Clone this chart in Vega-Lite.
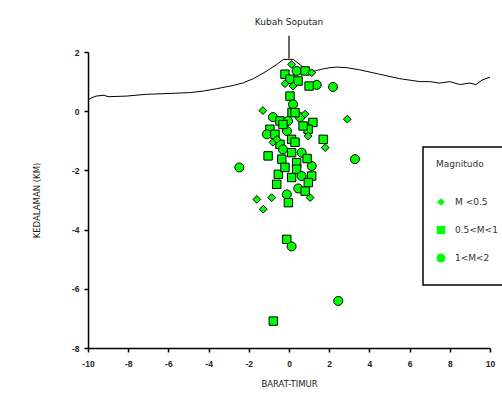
{
  "$schema": "https://vega.github.io/schema/vega-lite/v6.json",
  "autosize": {"type": "none"},
  "padding": {"left": 88, "top": 52, "right": 12, "bottom": 46},
  "width": 402,
  "height": 296,
  "background": "white",
  "config": {
    "view": {"stroke": null},
    "font": "Liberation Sans",
    "axis": {
      "domainColor": "black", "domainWidth": 1.5, "tickColor": "black", "tickWidth": 1.5,
      "grid": false, "labelFont": "Liberation Sans", "labelFontSize": 8.5, "labelFontWeight": "bold",
      "labelColor": "#222", "titleFont": "DejaVu Sans", "titleFontSize": 8.5, "titleFontWeight": "normal", "titleColor": "#222",
      "labelOverlap": false
    },
    "legend": {
      "orient": "none", "legendX": 335, "legendY": 95,
      "strokeColor": "black", "strokeWidth": 1.5, "padding": 13, "titleFont": "DejaVu Sans", "titleFontSize": 9, "titleFontWeight": "normal", "titleColor": "#333",
      "titlePadding": 19, "labelFont": "DejaVu Sans", "labelFontSize": 9, "labelColor": "#333", "rowPadding": 0, "clipHeight": 28, "labelOffset": 9,
      "symbolFillColor": "#00FF00", "symbolStrokeColor": "black", "symbolStrokeWidth": 1, "symbolOpacity": 1
    }
  },
  "title": {"text": "Kubah Soputan", "fontSize": 9, "fontWeight": "normal", "font": "DejaVu Sans", "color": "#222", "offset": 8, "anchor": "middle"},
  "datasets": {
    "topo": [
      {"x": -10, "y": 0.38}, {"x": -9.8, "y": 0.46}, {"x": -9.6, "y": 0.51}, {"x": -9.2, "y": 0.54},
      {"x": -9.0, "y": 0.49}, {"x": -8.1, "y": 0.51}, {"x": -7.1, "y": 0.57}, {"x": -5.9, "y": 0.6},
      {"x": -4.9, "y": 0.63}, {"x": -4.26, "y": 0.68}, {"x": -3.6, "y": 0.76}, {"x": -2.77, "y": 0.87},
      {"x": -2.27, "y": 0.96}, {"x": -1.77, "y": 1.1}, {"x": -1.1, "y": 1.36}, {"x": -0.61, "y": 1.58},
      {"x": -0.28, "y": 1.75}, {"x": 0.21, "y": 1.75}, {"x": 0.63, "y": 1.53}, {"x": 1.05, "y": 1.38},
      {"x": 1.3, "y": 1.36}, {"x": 1.63, "y": 1.42}, {"x": 2.04, "y": 1.47}, {"x": 2.38, "y": 1.49},
      {"x": 2.88, "y": 1.47}, {"x": 3.5, "y": 1.4}, {"x": 4.5, "y": 1.25}, {"x": 5.5, "y": 1.1},
      {"x": 6.5, "y": 1.0}, {"x": 7.0, "y": 1.0}, {"x": 7.5, "y": 0.95}, {"x": 8.0, "y": 1.0},
      {"x": 8.5, "y": 0.9}, {"x": 9.0, "y": 0.95}, {"x": 9.3, "y": 0.9}, {"x": 9.6, "y": 1.05}, {"x": 10, "y": 1.15}
    ],
    "quakes": [
      {"x": 0.13, "y": 1.58, "mag": "M <0.5"}, {"x": 0.38, "y": 1.36, "mag": "1<M<2"},
      {"x": 0.8, "y": 1.36, "mag": "0.5<M<1"}, {"x": 1.13, "y": 1.3, "mag": "M <0.5"},
      {"x": -0.2, "y": 1.25, "mag": "0.5<M<1"}, {"x": 0.05, "y": 1.08, "mag": "0.5<M<1"},
      {"x": 0.45, "y": 1.02, "mag": "0.5<M<1"}, {"x": 1.38, "y": 0.89, "mag": "1<M<2"},
      {"x": 1.0, "y": 0.85, "mag": "0.5<M<1"}, {"x": 0.2, "y": 0.85, "mag": "M <0.5"},
      {"x": -0.2, "y": 0.93, "mag": "M <0.5"}, {"x": 2.19, "y": 0.82, "mag": "1<M<2"},
      {"x": 0.05, "y": 0.51, "mag": "0.5<M<1"}, {"x": 0.2, "y": 0.23, "mag": "1<M<2"},
      {"x": -1.3, "y": 0.02, "mag": "M <0.5"}, {"x": 0.15, "y": -0.04, "mag": "0.5<M<1"},
      {"x": 2.9, "y": -0.27, "mag": "M <0.5"}, {"x": -0.8, "y": -0.2, "mag": "1<M<2"},
      {"x": 0.55, "y": -0.2, "mag": "1<M<2"}, {"x": 0.3, "y": -0.05, "mag": "0.5<M<1"},
      {"x": 0.8, "y": -0.1, "mag": "M <0.5"}, {"x": 1.19, "y": -0.38, "mag": "0.5<M<1"},
      {"x": 0.95, "y": -0.61, "mag": "0.5<M<1"}, {"x": -0.45, "y": -0.33, "mag": "0.5<M<1"},
      {"x": -0.05, "y": -0.33, "mag": "1<M<2"}, {"x": -0.95, "y": -0.61, "mag": "0.5<M<1"},
      {"x": -1.1, "y": -0.78, "mag": "1<M<2"}, {"x": -0.7, "y": -0.78, "mag": "0.5<M<1"},
      {"x": -0.1, "y": -0.67, "mag": "1<M<2"}, {"x": 0.13, "y": -0.95, "mag": "0.5<M<1"},
      {"x": -0.8, "y": -1.05, "mag": "M <0.5"}, {"x": -0.45, "y": -1.12, "mag": "0.5<M<1"},
      {"x": 0.95, "y": -0.84, "mag": "M <0.5"}, {"x": 1.7, "y": -0.95, "mag": "0.5<M<1"},
      {"x": 1.8, "y": -1.23, "mag": "M <0.5"}, {"x": -1.04, "y": -1.51, "mag": "0.5<M<1"},
      {"x": -0.3, "y": -1.29, "mag": "1<M<2"}, {"x": 0.13, "y": -1.4, "mag": "0.5<M<1"},
      {"x": 0.63, "y": -1.4, "mag": "1<M<2"}, {"x": -0.36, "y": -1.62, "mag": "0.5<M<1"},
      {"x": 3.28, "y": -1.62, "mag": "1<M<2"}, {"x": -2.47, "y": -1.9, "mag": "1<M<2"},
      {"x": 0.38, "y": -1.74, "mag": "0.5<M<1"}, {"x": 0.38, "y": -1.96, "mag": "0.5<M<1"},
      {"x": 1.13, "y": -1.85, "mag": "1<M<2"}, {"x": -0.53, "y": -2.13, "mag": "0.5<M<1"},
      {"x": 0.13, "y": -2.24, "mag": "0.5<M<1"}, {"x": 0.63, "y": -2.19, "mag": "1<M<2"},
      {"x": 1.13, "y": -2.19, "mag": "0.5<M<1"}, {"x": -0.61, "y": -2.47, "mag": "0.5<M<1"},
      {"x": 0.46, "y": -2.61, "mag": "1<M<2"}, {"x": 0.96, "y": -2.41, "mag": "0.5<M<1"},
      {"x": -0.11, "y": -2.81, "mag": "1<M<2"}, {"x": -1.6, "y": -2.98, "mag": "M <0.5"},
      {"x": -0.86, "y": -2.92, "mag": "M <0.5"}, {"x": 1.05, "y": -2.92, "mag": "M <0.5"},
      {"x": -0.03, "y": -3.09, "mag": "0.5<M<1"}, {"x": -1.28, "y": -3.31, "mag": "M <0.5"},
      {"x": -0.11, "y": -4.33, "mag": "0.5<M<1"}, {"x": 0.13, "y": -4.57, "mag": "1<M<2"},
      {"x": 2.45, "y": -6.41, "mag": "1<M<2"}, {"x": -0.78, "y": -7.09, "mag": "0.5<M<1"},
      {"x": -0.3, "y": -0.45, "mag": "0.5<M<1"}, {"x": 0.7, "y": -0.5, "mag": "0.5<M<1"},
      {"x": -0.6, "y": -0.95, "mag": "M <0.5"}, {"x": 0.3, "y": -1.05, "mag": "0.5<M<1"},
      {"x": 0.9, "y": -1.6, "mag": "0.5<M<1"}, {"x": -0.2, "y": -1.9, "mag": "0.5<M<1"},
      {"x": 0.8, "y": -2.7, "mag": "0.5<M<1"}
    ],
    "arrow": [{"x": 0, "y": 2.55, "y2": 1.78}]
  },
  "layer": [
    {
      "data": {"name": "topo"},
      "mark": {"type": "line", "color": "black", "strokeWidth": 1},
      "encoding": {
        "x": {"field": "x", "type": "quantitative",
          "scale": {"domain": [-10, 10], "nice": false, "zero": false},
          "axis": {"title": "BARAT-TIMUR", "values": [-10,-9,-8,-7,-6,-5,-4,-3,-2,-1,0,1,2,3,4,5,6,7,8,9,10],
            "labelExpr": "datum.value % 2 == 0 ? toString(datum.value) : ''", "tickSize": 4, "labelPadding": 7, "titlePadding": 12, "labelFlush": false}},
        "y": {"field": "y", "type": "quantitative",
          "scale": {"domain": [-8, 2], "nice": false, "zero": false},
          "axis": {"title": "KEDALAMAN (KM)", "values": [-8,-7.5,-7,-6.5,-6,-5.5,-5,-4.5,-4,-3.5,-3,-2.5,-2,-1.5,-1,-0.5,0,0.5,1,1.5,2],
            "labelExpr": "datum.value % 1 == 0 ? toString(datum.value) : ''", "tickSize": 4, "labelPadding": 5, "titlePadding": 30, "labelFlush": false}}
      }
    },
    {
      "data": {"name": "arrow"},
      "mark": {"type": "rule", "color": "black", "strokeWidth": 1.2, "clip": false},
      "encoding": {
        "x": {"field": "x", "type": "quantitative"},
        "y": {"field": "y", "type": "quantitative"},
        "y2": {"field": "y2"}
      }
    },
    {
      "data": {"name": "quakes"},
      "mark": {"type": "point", "filled": true, "fill": "#00FF00", "stroke": "black", "strokeWidth": 1, "opacity": 1, "fillOpacity": 1, "strokeOpacity": 1},
      "encoding": {
        "x": {"field": "x", "type": "quantitative"},
        "y": {"field": "y", "type": "quantitative"},
        "shape": {"field": "mag", "type": "nominal",
          "scale": {"domain": ["M <0.5", "0.5<M<1", "1<M<2"], "range": ["diamond", "square", "circle"]},
          "legend": {"title": "Magnitudo"}},
        "size": {"field": "mag", "type": "nominal",
          "scale": {"domain": ["M <0.5", "0.5<M<1", "1<M<2"], "range": [60, 81, 140]},
          "legend": {"title": "Magnitudo"}}
      }
    }
  ]
}
